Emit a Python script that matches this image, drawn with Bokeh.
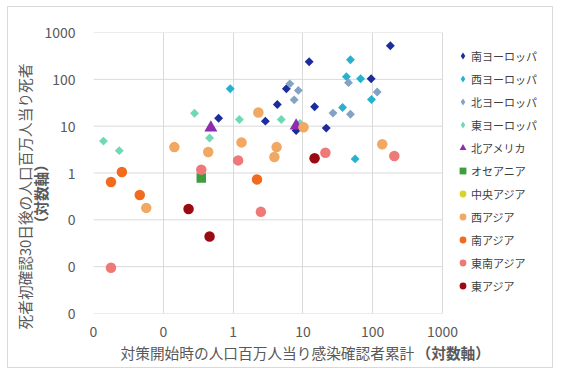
import math
from bokeh.plotting import figure
from bokeh.models import (FixedTicker, Legend, LegendItem, Title, CustomJSTickFormatter)
from bokeh.embed import file_html
from bokeh.resources import INLINE

# ---------------- data ----------------
x_ticks = [0.01, 0.1, 1, 10, 100, 1000]
x_tick_labels = ["0", "0", "1", "10", "100", "1000"]
y_ticks = [0.001, 0.01, 0.1, 1, 10, 100, 1000]
y_tick_labels = ["0", "0", "0", "1", "10", "100", "1000"]

x_title = "対策開始時の人口百万人当り感染確認者累計"
y_title = "死者初確認30日後の人口百万人当り死者"
axis_note = "（対数軸）"

regions = ["南ヨーロッパ", "西ヨーロッパ", "北ヨーロッパ", "東ヨーロッパ", "北アメリカ",
           "オセアニア", "中央アジア", "西アジア", "南アジア", "東南アジア", "東アジア"]

NA = float("nan")

south_europe_x = [0.62, 2.9, 4.3, 5.8, 12.3, 14.7, 8.0, 21.6, 95, 179]
south_europe_y = [14.8, 12.8, 29, 63, 238, 26, 8.1, 9.1, 103, 521]

west_europe_x = [0.91, 48, 42, 67, 37, 96, 56]
west_europe_y = [63, 262, 114, 103, 25, 37, 2.0]

north_europe_x = [6.5, 8.6, 7.5, 27, 45, 48, 116]
north_europe_y = [80, 58, 36.5, 19, 85, 18, 53.5]

east_europe_x = [0.0139, 0.0234, 0.28, 0.46, 1.23, 4.9, 9.1]
east_europe_y = [4.8, 3.0, 18.9, 5.6, 13.9, 13.9, 11.4]

north_america_x = [0.48, 8.0]
north_america_y = [9.2, 10.2]

oceania_x = [0.35]
oceania_y = [0.78]

central_asia_x = [NA]   # no country plotted
central_asia_y = [NA]

west_asia_x = [0.144, 0.44, 0.057, 2.3, 1.32, 4.2, 3.9, 10.2, 137]
west_asia_y = [3.57, 2.8, 0.18, 19.5, 4.5, 3.57, 2.2, 9.5, 4.1]

south_asia_x = [0.0255, 0.0178, 0.046, 2.2]
south_asia_y = [1.05, 0.64, 0.34, 0.73]

southeast_asia_x = [0.35, 1.18, 2.5, 21, 204, 0.0178]
southeast_asia_y = [1.18, 1.86, 0.148, 2.7, 2.3, 0.0095]

east_asia_x = [0.23, 0.46, 14.7]
east_asia_y = [0.17, 0.044, 2.06]

series_x = [south_europe_x, west_europe_x, north_europe_x, east_europe_x, north_america_x,
            oceania_x, central_asia_x, west_asia_x, south_asia_x, southeast_asia_x, east_asia_x]
series_y = [south_europe_y, west_europe_y, north_europe_y, east_europe_y, north_america_y,
            oceania_y, central_asia_y, west_asia_y, south_asia_y, southeast_asia_y, east_asia_y]

# ---------------- styles ----------------
colors = ["#1C2C9C", "#27B1CF", "#84A2C4", "#6FD9B2", "#8E2BAE",
          "#3E9E3E", "#D6D62A", "#F1A863", "#F26A1E", "#EF7878", "#9B0A12"]
D = ("square", 6.3, math.pi / 4, "diamond")
C = ("circle", 10.5, 0, None)
styles = [D, D, D, D, ("triangle", 13, 0, None), ("square", 9.5, 0, None), C, C, C, C, C]

FONT = "Noto Sans CJK JP"
GRID = "#D9D9D9"
TXT = "#595959"
TITLE_SIZE = "14.7px"

# ---------------- layout ----------------
W, H = 546, 362                 # canvas inside the 1px chart border
ML, MR, MT, MB = 85, 8, 25, 56  # borders around the frame
plot_w = 349                    # width of the gridded plot area (0.01 .. 1000)
frame_w = W - ML - MR
decades = math.log10(x_ticks[-1]) - math.log10(x_ticks[0])
x_end = 10 ** (math.log10(x_ticks[-1]) + (frame_w - plot_w) * decades / plot_w)

p = figure(width=W, height=H, x_axis_type="log", y_axis_type="log",
           x_range=(x_ticks[0], x_end), y_range=(y_ticks[0], y_ticks[-1]),
           output_backend="svg", toolbar_location=None,
           min_border_left=ML, min_border_right=MR, min_border_top=MT, min_border_bottom=MB)
p.styles = {"border": "1px solid #D9D9D9", "margin-left": "7px", "margin-top": "6px"}
p.background_fill_color = "white"
p.border_fill_color = "white"
p.outline_line_color = None

for ax, ticks, labels in ((p.xaxis[0], x_ticks, x_tick_labels), (p.yaxis[0], y_ticks, y_tick_labels)):
    ax.ticker = FixedTicker(ticks=ticks, minor_ticks=[])
    ax.formatter = CustomJSTickFormatter(args=dict(t=ticks, l=labels), code="""
        for (let i = 0; i < t.length; i++) {
            if (Math.abs(Math.log10(t[i]) - Math.log10(tick)) < 1e-6) return l[i];
        }
        return '';
    """)
    ax.axis_line_color = None
    ax.major_tick_line_color = None
    ax.minor_tick_line_color = None
    ax.major_tick_out = 0
    ax.major_tick_in = 0
    ax.major_label_text_font = FONT
    ax.major_label_text_font_size = "14px"
    ax.major_label_text_color = TXT
p.yaxis[0].major_label_standoff = 18
p.xaxis[0].major_label_standoff = 12

# vertical grid lines from the axis ticker; horizontal ones only across the plot area
p.xgrid[0].ticker = FixedTicker(ticks=x_ticks)
p.xgrid[0].grid_line_color = GRID
p.ygrid[0].grid_line_color = None
n = len(y_ticks)
p.segment(x0=[x_ticks[0]] * n, x1=[x_ticks[-1]] * n, y0=y_ticks, y1=y_ticks,
          line_color=GRID, line_width=1)

items = []
for name, xs, ys, col, (mk, sz, ang, leg_mk) in zip(regions, series_x, series_y, colors, styles):
    r = p.scatter(x=xs, y=ys, marker=mk, size=sz, angle=ang,
                  fill_color=col, line_color=None)
    if leg_mk is not None:
        # legend swatch shaped like the reference (legend glyphs are drawn unrotated)
        r = p.scatter(x=[NA], y=[NA], marker=leg_mk, size=sz, fill_color=col, line_color=None)
    items.append(LegendItem(label=name, renderers=[r]))

legend = Legend(items=items, location=(361, 19), orientation="vertical",
                padding=0, margin=0, spacing=6, glyph_width=17, glyph_height=17,
                label_height=17, label_standoff=-5,
                label_text_font=FONT, label_text_font_size="11px",
                label_text_color="#404040",
                border_line_color=None, background_fill_alpha=0)
p.add_layout(legend)

# y-axis title: two lines, second one bold
t_ybold = Title(text=axis_note, align="left", offset=83, standoff=-24, vertical_align="top",
                text_font=FONT, text_font_size=TITLE_SIZE, text_font_style="bold",
                text_color=TXT)
t_ynorm = Title(text=y_title, align="left", offset=-16, standoff=9, vertical_align="top",
                text_font=FONT, text_font_size=TITLE_SIZE, text_font_style="normal",
                text_color=TXT)
p.left = list(p.left) + [t_ybold, t_ynorm]

# x-axis title: normal text followed by a bold tail on the same line
t_xnorm = Title(text=x_title, align="left", offset=27, standoff=4, vertical_align="top",
                text_font=FONT, text_font_size=TITLE_SIZE, text_font_style="normal",
                text_color=TXT)
t_xbold = Title(text=axis_note, align="left", offset=323, standoff=-50, vertical_align="top",
                text_font=FONT, text_font_size=TITLE_SIZE, text_font_style="bold",
                text_color=TXT)
p.below = list(p.below) + [t_xnorm, t_xbold]

open("out.html", "w").write(file_html(p, INLINE))
